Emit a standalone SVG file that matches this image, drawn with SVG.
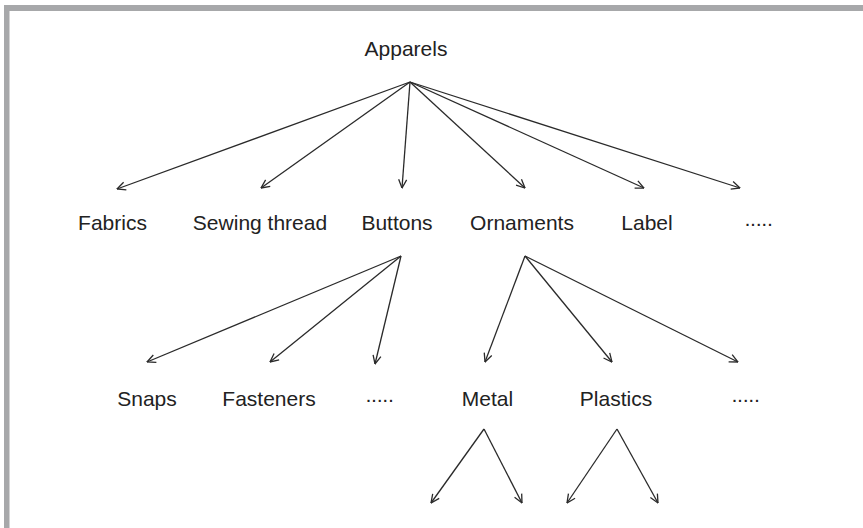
<svg xmlns="http://www.w3.org/2000/svg" width="863" height="528" viewBox="0 0 863 528">
<style>
.t{font-family:"Liberation Sans",Arial,sans-serif;font-size:21px;fill:#222;text-anchor:middle}
.d{letter-spacing:-1.4px}
.c line{stroke:#2a2a2a;stroke-width:1.3;marker-end:url(#a)}
</style>
<defs>
<marker id="a" viewBox="0 0 10 10" refX="9.5" refY="5" markerWidth="10" markerHeight="10" markerUnits="userSpaceOnUse" orient="auto">
<path d="M1,1 L9.5,5 L1,9" fill="none" stroke="#2a2a2a" stroke-width="1.3"/>
</marker>
</defs>
<rect width="863" height="528" fill="#fff"/>
<g id="frame" fill="#a7a8aa">
<rect x="4" y="5" width="859" height="6"/>
<rect x="4" y="5" width="5.5" height="523"/>
</g>
<g class="c" id="connectors">
<line x1="410" y1="82" x2="117" y2="189"/>
<line x1="410" y1="82" x2="261" y2="188"/>
<line x1="410" y1="82" x2="402" y2="188"/>
<line x1="410" y1="82" x2="525" y2="188"/>
<line x1="410" y1="82" x2="644" y2="188"/>
<line x1="410" y1="82" x2="740" y2="188"/>
<line x1="401" y1="256" x2="147" y2="362"/>
<line x1="401" y1="256" x2="270" y2="362"/>
<line x1="401" y1="256" x2="375" y2="364"/>
<line x1="525" y1="256" x2="485" y2="362"/>
<line x1="525" y1="256" x2="612" y2="362"/>
<line x1="525" y1="256" x2="738" y2="362"/>
<line x1="484" y1="429" x2="431" y2="503"/>
<line x1="484" y1="429" x2="522" y2="503"/>
<line x1="617" y1="429" x2="567" y2="503"/>
<line x1="617" y1="429" x2="658" y2="503"/>
</g>
<g id="apparels"><text class="t" x="406" y="56">Apparels</text></g>
<g id="fabrics"><text class="t" x="112.5" y="230">Fabrics</text></g>
<g id="sewing"><text class="t" x="260" y="230">Sewing thread</text></g>
<g id="buttons"><text class="t" x="397" y="230">Buttons</text></g>
<g id="ornaments"><text class="t" x="522" y="230">Ornaments</text></g>
<g id="label"><text class="t" x="647" y="230">Label</text></g>
<g id="more1"><text class="t d" x="758" y="230">·····</text></g>
<g id="snaps"><text class="t" x="147" y="406">Snaps</text></g>
<g id="fasteners"><text class="t" x="269" y="406">Fasteners</text></g>
<g id="more2"><text class="t d" x="379" y="406">·····</text></g>
<g id="metal"><text class="t" x="487.5" y="406">Metal</text></g>
<g id="plastics"><text class="t" x="616" y="406">Plastics</text></g>
<g id="more3"><text class="t d" x="745" y="406">·····</text></g>
</svg>
